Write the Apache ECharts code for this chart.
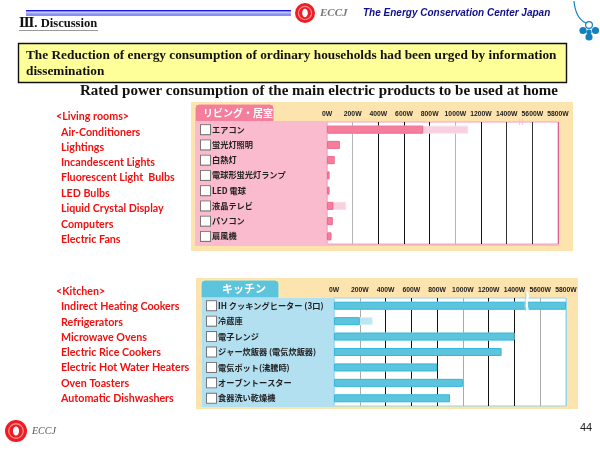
<!DOCTYPE html>
<html><head><meta charset="utf-8">
<style>html,body{margin:0;padding:0;background:#fff}#c{width:600px;height:450px}</style>
<script src="https://cdn.jsdelivr.net/npm/echarts@6/dist/echarts.min.js"></script>
</head><body><div id="c"></div>
<script>
const livingCategories = ['エアコン','蛍光灯照明','白熱灯','電球形蛍光灯ランプ','LED 電球','液晶テレビ','パソコン','扇風機'];
const livingRated = [750,100,60,20,20,50,45,35];
const livingMax = [1100,100,60,20,20,150,45,35];
const kitchenCategories = ['IH クッキングヒーター (3口)','冷蔵庫','電子レンジ','ジャー炊飯器 (電気炊飯器)','電気ポット(沸騰時)','オーブントースター','食器洗い乾燥機'];
const kitchenRated = [5800,200,1400,1300,800,1000,900];
const kitchenMax = [5800,300,1400,1300,800,1000,900];
const tickLabels = ['0W','200W','400W','600W','800W','1000W','1200W','1400W','5600W','5800W'];
const livingList = ['<Living rooms>','Air-Conditioners','Lightings','Incandescent Lights','Fluorescent Light  Bulbs','LED Bulbs','Liquid Crystal Display','Computers','Electric Fans'];
const kitchenList = ['<Kitchen>','Indirect Heating Cookers','Refrigerators','Microwave Ovens','Electric Rice Cookers','Electric Hot Water Heaters','Oven Toasters','Automatic Dishwashers'];
const livingListY = [117,132.7,148,163,178,194,209,224.5,239.5];
const kitchenListY = [292,307,322.5,337.5,353,368,383.5,398.5];

// The printed axis is broken between 1400W and 5600W; values above the break shift down by 4000 on the axis.
const toAxis = v => v >= 5600 ? v - 4000 : v;

const serif = '"Liberation Serif","DejaVu Serif",serif';
const sans = '"Liberation Sans",Arial,sans-serif';
const cjk = '"Noto Sans CJK JP",sans-serif';

function rect(x,y,w,h,fill,extra){return Object.assign({type:'rect',shape:{x,y,width:w,height:h},style:{fill},z:-5,silent:true},extra||{});}
function text(x,y,t,font,fill,extra){return Object.assign({type:'text',x,y,z:20,silent:true,style:{text:t,font,fill,textVerticalAlign:'middle'}},extra||{});}
function curve(x1,y1,cx1,cy1,cx2,cy2,x2,y2,stroke,lineWidth){
  return {type:'bezierCurve',shape:{x1,y1,cpx1:cx1,cpy1:cy1,cpx2:cx2,cpy2:cy2,x2,y2},style:{fill:'none',stroke,lineWidth},z:30,silent:true};
}
function dot(cx,cy,r){return {type:'circle',shape:{cx,cy,r},style:{fill:'#1480C0'},z:20,silent:true};}
function logo(cx,cy,r){
  return [{type:'circle',shape:{cx,cy,r},style:{fill:'#EE1C25'},z:20,silent:true},
    {type:'ring',shape:{cx,cy,r:r*0.72,r0:r*0.6},style:{fill:'#F98A8A'},z:21,silent:true},
    {type:'ellipse',shape:{cx,cy,rx:r*0.28,ry:r*0.42},style:{fill:'#fff'},z:22,silent:true}];
}
const graphic = [
  rect(191,102,382,149,'#FDE3AE'),
  rect(196,278,382,131,'#FDE3AE'),
  {type:'rect',shape:{x:195,y:104,width:79,height:18,r:[4,4,0,0]},style:{fill:'#F47E9C',stroke:'#FDEFB5',lineWidth:1},z:-4,silent:true},
  {type:'rect',shape:{x:201,y:280,width:78,height:18,r:[4,4,0,0]},style:{fill:'#5CC4DC',stroke:'#FDEFB5',lineWidth:1},z:-4,silent:true},
  rect(195,121,132,125,'#F9BBCD',{z:-3}),
  rect(327,244,232,2,'#F9BBCD',{z:-3}),
  rect(202,298,132,109,'#B2E0F0',{z:-3}),
  text(203,113,'リビング・居室','bold 10px '+cjk,'#fff'),
  text(222,289,'キッチン','bold 11px '+cjk,'#fff'),
  rect(26,10,265,1.4,'#1a1af0',{z:20}),
  rect(26,12.6,265,1.2,'#7d8df0',{z:20}),
  rect(26,14.4,265,1,'#1a1af0',{z:20}),
  text(19,24,'Ⅲ. Discussion','bold 12.6px '+serif,'#111'),
  rect(19,30,79,1,'#999',{z:20}),
  ...logo(305,13,10),
  text(320,13.5,'ECCJ','italic bold 11px '+serif,'#777'),
  text(363,13.5,'The Energy Conservation Center Japan','italic bold 10px '+sans,'#10108a'),
  {type:'rect',shape:{x:18.5,y:43.5,width:548,height:39},style:{fill:'#FFFF99',stroke:'#111',lineWidth:1.4},z:10,silent:true},
  text(26,56,'The Reduction of energy consumption of ordinary households had been urged by information','bold 13.3px '+serif,'#111'),
  text(26,72,'dissemination','bold 13.3px '+serif,'#111'),
  text(80,91,'Rated power consumption of the main electric products to be used at home','bold 15px '+serif,'#111'),
  ...livingList.map((t,i)=>text(i===0?56:61,livingListY[i],t,'bold 10.7px Lato,sans-serif','#F01010')),
  ...kitchenList.map((t,i)=>text(i===0?56:61,kitchenListY[i],t,'bold 10.7px Lato,sans-serif','#F01010')),
  ...logo(16,431,11),
  text(32,431,'ECCJ','italic 10px '+serif,'#555'),
  text(580,428,'44','11px '+sans,'#222'),
  curve(574,1,575,12,579,20,586,23,'#1480C0',1.2),
  dot(583,30.5,3.6),dot(595.5,30.5,3.6),dot(589,37,3.6),dot(589,32,2.6),
  {type:'circle',shape:{cx:589,cy:25,r:3.4},style:{fill:'#fff',stroke:'#1480C0',lineWidth:1.2},z:20,silent:true},
  curve(519,119,521,121,518,123,520,125,'#F9BBCD',1),
  curve(522,119,524,121,521,123,523,125,'#F9BBCD',1),
  curve(527,292,530,297,524,303,528,311,'#fff',2.4),
  curve(525,292,528,297,522,303,526,311,'#8FD6EA',0.8)
];

function xAxis(gridIndex,colors){
  return {type:'value',gridIndex,position:'top',min:0,max:1800,interval:200,
    axisLine:{show:false},axisTick:{show:false},
    axisLabel:{margin:4,fontSize:6.8,fontWeight:'bold',fontFamily:sans,color:'#222',hideOverlap:false,showMinLabel:true,showMaxLabel:true,
      formatter:v=>tickLabels[Math.round(v/200)]},
    splitLine:{show:true,lineStyle:{width:1,color:colors}}};
}
function yAxis(gridIndex,cats,margin){
  return {type:'category',gridIndex,inverse:true,data:cats,
    axisLine:{show:false},axisTick:{show:false},splitLine:{show:false},
    axisLabel:{interval:0,align:'left',margin,formatter:v=>'{b|}{t|'+v+'}',
      rich:{b:{width:9,height:9,backgroundColor:'#fff',borderColor:'#777',borderWidth:1},
            t:{padding:[0,0,0,2],fontSize:8.2,fontWeight:'bold',fontFamily:cjk,color:'#222'}}}};
}
function bar(xi,data,fill,border,z,name){
  return {type:'bar',name,xAxisIndex:xi,yAxisIndex:xi,data:data.map(toAxis),barWidth:8,barGap:'-100%',z,silent:true,
    itemStyle:{color:fill,borderColor:border,borderWidth:1}};
}
const chart = echarts.init(document.getElementById('c'),null,{renderer:'canvas'});
chart.setOption({
  animation:false,backgroundColor:'#fff',
  graphic,
  grid:[
    {left:327,top:122,width:231,height:122,show:true,backgroundColor:'#fff',borderColor:'#F5A0BC',borderWidth:1},
    {left:334,top:298,width:232,height:108,show:true,backgroundColor:'#fff',borderColor:'#8FD6EA',borderWidth:1}
  ],
  xAxis:[
    xAxis(0,['#F9BBCD','#b5b5b5','#111','#111','#111','#b5b5b5','#111','#333','#333','#E0608A']),
    xAxis(1,['#B2E0F0','#aaa','#111','#111','#111','#aaa','#111','#111','#aaa','#8FD6EA'])
  ],
  yAxis:[yAxis(0,livingCategories,126),yAxis(1,kitchenCategories,127)],
  series:[
    bar(0,livingMax,'#F9D0DF','#FBDCE7',3,'Living max'),
    bar(0,livingRated,'#F57E9D','#EE6A90',4,'Living rated'),
    bar(1,kitchenMax,'#BDE6F3','#D5F0F8',3,'Kitchen max'),
    bar(1,kitchenRated,'#5CC5DD','#35B8DA',4,'Kitchen rated')
  ]
});
</script></body></html>
